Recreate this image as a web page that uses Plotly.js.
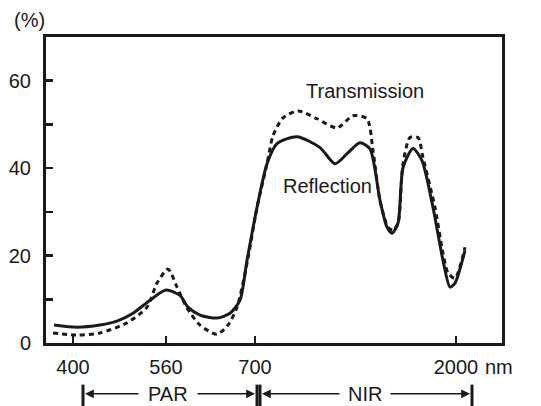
<!DOCTYPE html>
<html>
<head>
<meta charset="utf-8">
<script src="https://cdn.plot.ly/plotly-3.0.1.min.js"></script>
<style>html,body{margin:0;padding:0;background:#fff}#chart{width:541px;height:406px}</style>
</head>
<body>
<div id="chart"></div>
<script>
// Schematic wavelength axis: position units along the (non-linear) axis
const tickPositions = [27, 120, 209, 410];
const tickLabels = ["400", "560", "700", "2000"];
const yTickVals = [0, 10, 20, 30, 40, 50, 60];
const yTickLabels = ["0", "", "20", "", "40", "", "60"];

// Reflection (solid) — position along axis, percent
const reflX = [8, 31, 54, 71, 87, 104, 120, 134, 142, 154, 171, 184, 194, 201, 211, 221, 231, 251, 274, 289, 301, 314, 324, 334, 341, 346, 352, 357, 367, 376, 387, 397, 404, 409, 419];
const reflY = [4.1, 3.6, 4.1, 5.0, 6.8, 9.8, 12.1, 10.9, 8.2, 6.4, 5.7, 6.8, 9.8, 18.9, 31, 41, 45.6, 47.2, 44.7, 41, 43.3, 45.8, 44.4, 32.6, 26.5, 25.1, 27.4, 40.1, 44.5, 41.7, 31, 18.9, 12.8, 13.7, 21.2];

// Transmission (dashed)
const transX = [7, 31, 54, 81, 101, 111, 122, 131, 141, 154, 171, 182, 191, 201, 211, 221, 227, 237, 252, 271, 291, 307, 321, 327, 334, 342, 347, 352, 357, 364, 372, 377, 389, 397, 402, 409, 419];
const transY = [2.3, 1.8, 2.3, 4.6, 8.2, 13.7, 16.9, 12.8, 8.0, 4.1, 2.0, 4.1, 8.2, 18.2, 31, 41, 47.4, 51.5, 53.1, 51.3, 49.2, 52, 51.3, 44, 32.6, 26.5, 25.8, 27.4, 41, 47, 47, 42.4, 31, 20.5, 16, 14.8, 21.9];

// Curve labels
const seriesNames = ["Transmission", "Reflection"];
const seriesLabelX = [319, 281];
const seriesLabelY = [57.7, 36];

// Spectral regions (start, end positions on axis)
const regionNames = ["PAR", "NIR"];
const regionStart = [37, 214];
const regionEnd = [211, 426];
const regionTextX = [122, 319];
const regionHalfGap = [28, 24];

const ink = "#1a1a1a";
const fnt = {family: "Liberation Sans, Arial, Helvetica, sans-serif", size: 20, color: ink};

const traces = [
  {x: transX, y: transY, mode: "lines", type: "scatter", name: "Transmission",
   line: {color: ink, width: 3, dash: "5px,4px", shape: "spline", smoothing: 0.7}},
  {x: reflX, y: reflY, mode: "lines", type: "scatter", name: "Reflection",
   line: {color: ink, width: 3, shape: "spline", smoothing: 0.7}}
];

const yRow = -0.166;
const annotations = [];
const shapes = [];

seriesNames.forEach((n, i) => annotations.push({
  x: seriesLabelX[i], y: seriesLabelY[i], xref: "x", yref: "y", text: n,
  showarrow: false, font: fnt, xanchor: "center", yanchor: "middle"
}));

annotations.push({x: -0.075, y: 1.056, xref: "paper", yref: "paper", text: "(%)",
  showarrow: false, font: fnt, xanchor: "left", yanchor: "middle"});
annotations.push({x: 437, y: -0.08, xref: "x", yref: "paper", text: "nm",
  showarrow: false, font: fnt, xanchor: "left", yanchor: "middle"});

regionNames.forEach((n, i) => {
  const s = regionStart[i], e = regionEnd[i], c = regionTextX[i];
  annotations.push({x: c, y: yRow, xref: "x", yref: "paper", text: n, showarrow: false,
    font: fnt, xanchor: "center", yanchor: "middle"});
  const half = regionHalfGap[i];
  annotations.push({x: s + 2, y: yRow, ax: c - half, ay: yRow, xref: "x", yref: "paper",
    axref: "x", ayref: "paper", text: "", showarrow: true, arrowhead: 2, arrowsize: 1.1,
    arrowwidth: 1.6, arrowcolor: ink});
  annotations.push({x: e - 2, y: yRow, ax: c + half, ay: yRow, xref: "x", yref: "paper",
    axref: "x", ayref: "paper", text: "", showarrow: true, arrowhead: 2, arrowsize: 1.1,
    arrowwidth: 1.6, arrowcolor: ink});
  [s, e].forEach(v => shapes.push({type: "line", xref: "x", yref: "paper", x0: v, x1: v,
    y0: yRow + 0.03, y1: yRow - 0.06, line: {color: ink, width: 3}}));
});

const layout = {
  width: 541, height: 406,
  margin: {l: 46, r: 39, t: 37, b: 63},
  paper_bgcolor: "#fff", plot_bgcolor: "#fff",
  showlegend: false,
  font: fnt,
  xaxis: {range: [0, 456], showgrid: false, zeroline: false, showline: true, mirror: true,
    linecolor: ink, linewidth: 3, ticks: "inside", ticklen: 7, tickwidth: 2.5, tickcolor: ink,
    tickmode: "array", tickvals: tickPositions, ticktext: tickLabels, tickfont: fnt,
    ticklabelstandoff: 4},
  yaxis: {range: [0, 70], showgrid: false, zeroline: false, showline: true, mirror: true,
    linecolor: ink, linewidth: 3, ticks: "inside", ticklen: 7, tickwidth: 2.5, tickcolor: ink,
    tickmode: "array", tickvals: yTickVals, ticktext: yTickLabels, tickfont: fnt,
    ticklabelstandoff: 8},
  annotations: annotations,
  shapes: shapes
};

Plotly.newPlot("chart", traces, layout, {staticPlot: true, displayModeBar: false});
</script>
</body>
</html>
